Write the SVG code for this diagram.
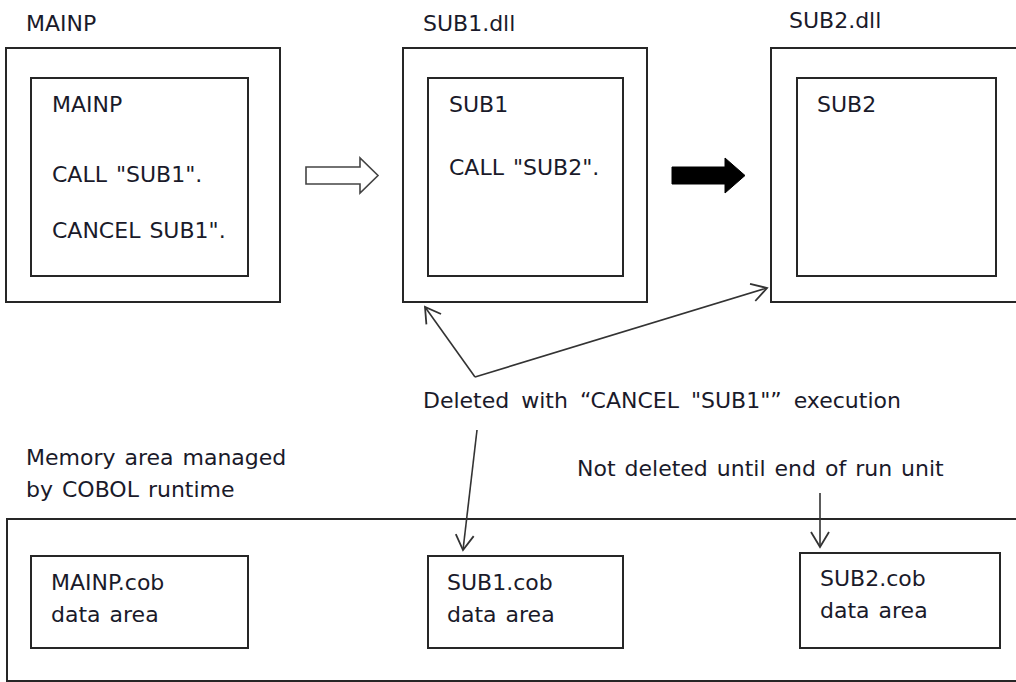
<svg xmlns="http://www.w3.org/2000/svg" width="1016" height="682" viewBox="0 0 1016 682">
<style>
  .box { fill: #fff; stroke: #262626; stroke-width: 2; }
  .t { font-family: "DejaVu Sans", Verdana, sans-serif; font-size: 22px; fill: #1a1a2a; word-spacing: 2px; }
  .con { fill: none; stroke: #333; stroke-width: 1.6; }
</style>
<defs>
  <marker id="open" markerUnits="userSpaceOnUse" markerWidth="20" markerHeight="22" viewBox="-2 -11 20 22" refX="15" refY="0" orient="auto">
    <path d="M0,-9 L15,0 L0,9" fill="none" stroke="#333" stroke-width="1.8"/>
  </marker>
</defs>
<rect width="1016" height="682" fill="#fff"/>

<g id="mainp">
  <text class="t" x="26" y="31">MAINP</text>
  <rect class="box" x="6" y="48" width="274" height="254"/>
  <rect class="box" x="31" y="78" width="217" height="198"/>
  <text class="t" x="52" y="112">MAINP</text>
  <text class="t" x="52" y="182">CALL "SUB1".</text>
  <text class="t" x="52" y="238">CANCEL SUB1".</text>
</g>

<g id="sub1dll">
  <text class="t" x="423" y="31">SUB1.dll</text>
  <rect class="box" x="403" y="48" width="244" height="254"/>
  <rect class="box" x="428" y="78" width="195" height="198"/>
  <text class="t" x="449" y="112">SUB1</text>
  <text class="t" x="449" y="175">CALL "SUB2".</text>
</g>

<g id="sub2dll">
  <text class="t" x="789" y="28">SUB2.dll</text>
  <rect class="box" x="771" y="48" width="260" height="254"/>
  <rect class="box" x="797" y="78" width="199" height="198"/>
  <text class="t" x="817" y="112">SUB2</text>
</g>

<g id="memory">
  <text class="t" x="26" y="465">Memory area managed</text>
  <text class="t" x="26" y="497">by COBOL runtime</text>
  <rect class="box" x="7" y="519" width="1030" height="162"/>
</g>

<g id="mainpcob">
  <rect class="box" x="31" y="556" width="217" height="92"/>
  <text class="t" x="51" y="590">MAINP.cob</text>
  <text class="t" x="51" y="622">data area</text>
</g>

<g id="sub1cob">
  <rect class="box" x="428" y="556" width="195" height="92"/>
  <text class="t" x="447" y="590">SUB1.cob</text>
  <text class="t" x="447" y="622">data area</text>
</g>

<g id="sub2cob">
  <rect class="box" x="800" y="553" width="200" height="95"/>
  <text class="t" x="820" y="586">SUB2.cob</text>
  <text class="t" x="820" y="618">data area</text>
</g>

<g id="labels">
  <text class="t" x="423" y="408" style="word-spacing:5px">Deleted with “CANCEL "SUB1"” execution</text>
  <text class="t" x="577" y="476">Not deleted until end of run unit</text>
</g>

<g id="connectors">
  <path d="M306,167 H360 V158 L378,175.5 L360,193 V184 H306 Z" fill="#fff" stroke="#444" stroke-width="1.6"/>
  <path d="M672,167 H725 V158 L745,175.5 L725,193 V184 H672 Z" fill="#000" stroke="#000" stroke-width="1"/>
  <line class="con" x1="475" y1="377" x2="767" y2="288" marker-end="url(#open)"/>
  <line class="con" x1="475" y1="377" x2="425" y2="307" marker-end="url(#open)"/>
  <line class="con" x1="477" y1="430" x2="463" y2="550" marker-end="url(#open)"/>
  <line class="con" x1="820" y1="493" x2="820" y2="547" marker-end="url(#open)"/>
</g>
</svg>
